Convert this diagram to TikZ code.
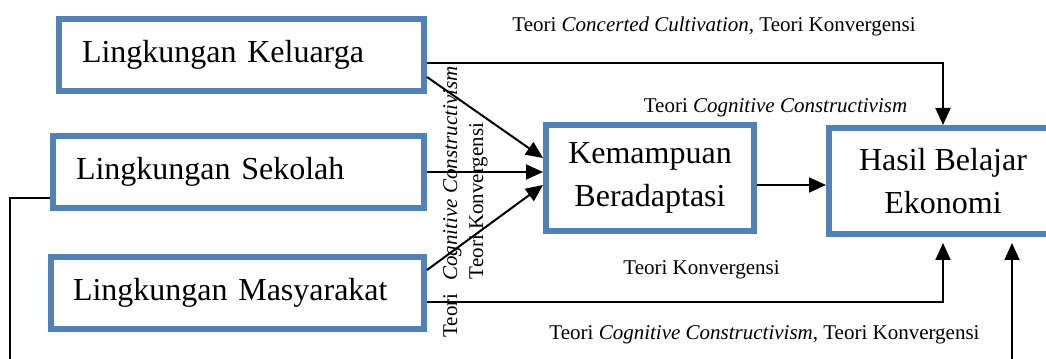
\documentclass[tikz,border=0pt]{standalone}
\usepackage{fontspec}
\setmainfont{Liberation Serif}
\usetikzlibrary{arrows.meta}
\definecolor{boxblue}{HTML}{4F81BD}
\begin{document}
\begin{tikzpicture}[x=0.75pt,y=-0.75pt,
  box/.style={draw=boxblue, line width=4.5pt, fill=white, inner ysep=0pt, minimum height=54pt, font=\fontsize{24}{32.25}\selectfont},
  lbox/.style={box, align=left, text width=#1},
  cbox/.style={box, align=center, minimum height=79.5pt},
  lab/.style={font=\fontsize{15.75}{19}\selectfont, inner sep=0pt},
  arr/.style={line width=1.5pt, -{Triangle[length=12.75pt,width=11.25pt]}},
]
\path[use as bounding box] (0,0) rectangle (1046,359);
\clip (0,0) rectangle (1046,359);

% boxes
\node[lbox=239.25pt, inner xsep=17.25pt] (k) at (241.5,55) {Lingkungan Keluarga};
\node[lbox=243.75pt, inner xsep=17.25pt] (s) at (238.5,172) {Lingkungan Sekolah};
\node[lbox=246.75pt, inner xsep=16.5pt] (m) at (237.5,293) {Lingkungan Masyarakat};
\node[cbox, minimum width=156pt] (km) at (650,178) {Kemampuan\\Beradaptasi};
\node[cbox, minimum width=171pt] (h) at (943,181) {Hasil Belajar\\Ekonomi};
% the Hasil box runs past the right edge of the picture
\draw[boxblue, line width=4.5pt] (h.north east) ++(-3,3) -- ++(60,0) (h.south east) ++(-3,-3) -- ++(60,0);

% labels
\node[lab, anchor=base] (l1) at (714,32) {Teori \textit{Concerted Cultivation}, Teori Konvergensi};
\node[lab, anchor=base] (l2) at (775.5,113) {Teori \textit{Cognitive Constructivism}};
\node[lab, anchor=base] (l3) at (701.5,275) {Teori Konvergensi};
\node[lab, anchor=base] (l4) at (764.5,340) {Teori \textit{Cognitive Constructivism}, Teori Konvergensi};
\node[lab, anchor=base, rotate=90] (l5) at (457,202) {Teori\hspace{9.75pt}\textit{Cognitive Constructivism}};
\node[lab, anchor=base, rotate=90] (l6) at (483,201) {Teori Konvergensi};

% connectors
\draw[arr] ([yshift=-6pt]k.east) -| (h.north);
\draw[arr] ([yshift=-16.5pt]k.east) -- ([yshift=15pt]km.west);
\draw[arr] (s.east) -- (s.east -| km.west);
\draw[arr] ([yshift=17.25pt]m.east) -- ([yshift=-5.25pt]km.west);
\draw[arr] ([yshift=-5.25pt]km.east) -- ([yshift=-5.25pt]km.east -| h.west);
\draw[arr, shorten >=4.5pt] ([yshift=-6.75pt]m.east) -| (h.south);
\coordinate (bl) at (10,375);
\coordinate (br) at (1012,375);
\draw[arr, line width=1.2pt, shorten >=4.5pt] ([yshift=-19.5pt]s.west) -| (bl) -- (br) -- (br |- h.south);
\end{tikzpicture}
\end{document}
